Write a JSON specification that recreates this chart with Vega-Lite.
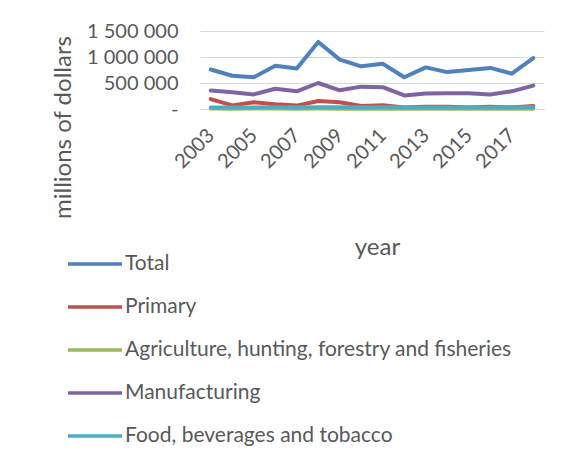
{
  "$schema": "https://vega.github.io/schema/vega-lite/v6.json",
  "width": 344,
  "height": 78,
  "autosize": "none",
  "padding": {"left": 200, "top": 31, "right": 34, "bottom": 353},
  "background": "white",
  "config": {
    "view": {"stroke": null},
    "font": "Lato",
    "axis": {"labelFont": "Lato", "titleFont": "Lato", "labelColor": "#595959", "titleColor": "#595959", "titleFontWeight": "normal"},
    "legend": {"labelFont": "Lato"}
  },
  "datasets": {
    "d": [
      {"year": "2003", "series": "Total", "value": 760000},
      {"year": "2004", "series": "Total", "value": 640000},
      {"year": "2005", "series": "Total", "value": 610000},
      {"year": "2006", "series": "Total", "value": 830000},
      {"year": "2007", "series": "Total", "value": 780000},
      {"year": "2008", "series": "Total", "value": 1290000},
      {"year": "2009", "series": "Total", "value": 950000},
      {"year": "2010", "series": "Total", "value": 820000},
      {"year": "2011", "series": "Total", "value": 870000},
      {"year": "2012", "series": "Total", "value": 610000},
      {"year": "2013", "series": "Total", "value": 800000},
      {"year": "2014", "series": "Total", "value": 710000},
      {"year": "2015", "series": "Total", "value": 750000},
      {"year": "2016", "series": "Total", "value": 790000},
      {"year": "2017", "series": "Total", "value": 680000},
      {"year": "2018", "series": "Total", "value": 980000},
      {"year": "2003", "series": "Primary", "value": 190000},
      {"year": "2004", "series": "Primary", "value": 70000},
      {"year": "2005", "series": "Primary", "value": 130000},
      {"year": "2006", "series": "Primary", "value": 90000},
      {"year": "2007", "series": "Primary", "value": 65000},
      {"year": "2008", "series": "Primary", "value": 155000},
      {"year": "2009", "series": "Primary", "value": 130000},
      {"year": "2010", "series": "Primary", "value": 60000},
      {"year": "2011", "series": "Primary", "value": 70000},
      {"year": "2012", "series": "Primary", "value": 30000},
      {"year": "2013", "series": "Primary", "value": 45000},
      {"year": "2014", "series": "Primary", "value": 45000},
      {"year": "2015", "series": "Primary", "value": 30000},
      {"year": "2016", "series": "Primary", "value": 45000},
      {"year": "2017", "series": "Primary", "value": 30000},
      {"year": "2018", "series": "Primary", "value": 60000},
      {"year": "2003", "series": "Agriculture, hunting, forestry and fisheries", "value": 8000},
      {"year": "2004", "series": "Agriculture, hunting, forestry and fisheries", "value": 7000},
      {"year": "2005", "series": "Agriculture, hunting, forestry and fisheries", "value": 7500},
      {"year": "2006", "series": "Agriculture, hunting, forestry and fisheries", "value": 8000},
      {"year": "2007", "series": "Agriculture, hunting, forestry and fisheries", "value": 6000},
      {"year": "2008", "series": "Agriculture, hunting, forestry and fisheries", "value": 9000},
      {"year": "2009", "series": "Agriculture, hunting, forestry and fisheries", "value": 7000},
      {"year": "2010", "series": "Agriculture, hunting, forestry and fisheries", "value": 6000},
      {"year": "2011", "series": "Agriculture, hunting, forestry and fisheries", "value": 7000},
      {"year": "2012", "series": "Agriculture, hunting, forestry and fisheries", "value": 5000},
      {"year": "2013", "series": "Agriculture, hunting, forestry and fisheries", "value": 6000},
      {"year": "2014", "series": "Agriculture, hunting, forestry and fisheries", "value": 5000},
      {"year": "2015", "series": "Agriculture, hunting, forestry and fisheries", "value": 5000},
      {"year": "2016", "series": "Agriculture, hunting, forestry and fisheries", "value": 6000},
      {"year": "2017", "series": "Agriculture, hunting, forestry and fisheries", "value": 5000},
      {"year": "2018", "series": "Agriculture, hunting, forestry and fisheries", "value": 6000},
      {"year": "2003", "series": "Manufacturing", "value": 355000},
      {"year": "2004", "series": "Manufacturing", "value": 320000},
      {"year": "2005", "series": "Manufacturing", "value": 280000},
      {"year": "2006", "series": "Manufacturing", "value": 390000},
      {"year": "2007", "series": "Manufacturing", "value": 340000},
      {"year": "2008", "series": "Manufacturing", "value": 500000},
      {"year": "2009", "series": "Manufacturing", "value": 360000},
      {"year": "2010", "series": "Manufacturing", "value": 430000},
      {"year": "2011", "series": "Manufacturing", "value": 420000},
      {"year": "2012", "series": "Manufacturing", "value": 260000},
      {"year": "2013", "series": "Manufacturing", "value": 300000},
      {"year": "2014", "series": "Manufacturing", "value": 305000},
      {"year": "2015", "series": "Manufacturing", "value": 305000},
      {"year": "2016", "series": "Manufacturing", "value": 280000},
      {"year": "2017", "series": "Manufacturing", "value": 340000},
      {"year": "2018", "series": "Manufacturing", "value": 450000},
      {"year": "2003", "series": "Food, beverages and tobacco", "value": 30000},
      {"year": "2004", "series": "Food, beverages and tobacco", "value": 28000},
      {"year": "2005", "series": "Food, beverages and tobacco", "value": 27000},
      {"year": "2006", "series": "Food, beverages and tobacco", "value": 32000},
      {"year": "2007", "series": "Food, beverages and tobacco", "value": 30000},
      {"year": "2008", "series": "Food, beverages and tobacco", "value": 35000},
      {"year": "2009", "series": "Food, beverages and tobacco", "value": 33000},
      {"year": "2010", "series": "Food, beverages and tobacco", "value": 30000},
      {"year": "2011", "series": "Food, beverages and tobacco", "value": 32000},
      {"year": "2012", "series": "Food, beverages and tobacco", "value": 28000},
      {"year": "2013", "series": "Food, beverages and tobacco", "value": 30000},
      {"year": "2014", "series": "Food, beverages and tobacco", "value": 30000},
      {"year": "2015", "series": "Food, beverages and tobacco", "value": 30000},
      {"year": "2016", "series": "Food, beverages and tobacco", "value": 31000},
      {"year": "2017", "series": "Food, beverages and tobacco", "value": 30000},
      {"year": "2018", "series": "Food, beverages and tobacco", "value": 33000}
    ]
  },
  "data": {"name": "d"},
  "mark": {"type": "line", "strokeWidth": 4, "strokeJoin": "round", "strokeCap": "round"},
  "encoding": {
    "x": {
      "field": "year", "type": "ordinal",
      "axis": {
        "title": "year", "titleFontSize": 24, "titleX": 177, "titleY": 138, "titleBaseline": "middle",
        "values": ["2003", "2005", "2007", "2009", "2011", "2013", "2015", "2017"],
        "labelAngle": -45, "labelAlign": "right", "labelBaseline": "middle", "labelFontSize": 20, "labelPadding": 23,
        "ticks": false, "domainColor": "#d9d9d9", "domainWidth": 1, "grid": false
      }
    },
    "y": {
      "field": "value", "type": "quantitative",
      "scale": {"domain": [0, 1500000], "nice": false},
      "axis": {
        "title": "millions of dollars", "titleFontSize": 24, "titleX": -137, "titleY": 96, "titleAngle": -90, "titleBaseline": "middle", "titleAlign": "center",
        "values": [0, 500000, 1000000, 1500000],
        "labelExpr": "datum.value == 0 ? '-' : replace(format(datum.value, ','), regexp(',', 'g'), ' ')",
        "labelFontSize": 20, "labelPadding": 22, "ticks": false, "domain": false,
        "grid": true, "gridColor": "#d9d9d9", "gridWidth": 1
      }
    },
    "color": {
      "field": "series", "type": "nominal",
      "scale": {
        "domain": ["Total", "Primary", "Agriculture, hunting, forestry and fisheries", "Manufacturing", "Food, beverages and tobacco"],
        "range": ["#4F81BD", "#C0504D", "#9BBB59", "#8064A2", "#4BACC6"]
      },
      "legend": {
        "title": null, "orient": "none", "legendX": -134, "legendY": 204, "direction": "vertical",
        "symbolType": "stroke", "symbolSize": 2916, "symbolStrokeWidth": 3.5,
        "labelFontSize": 21, "labelColor": "#595959", "labelOffset": 1, "rowPadding": 4, "labelLimit": 500
      }
    }
  }
}
